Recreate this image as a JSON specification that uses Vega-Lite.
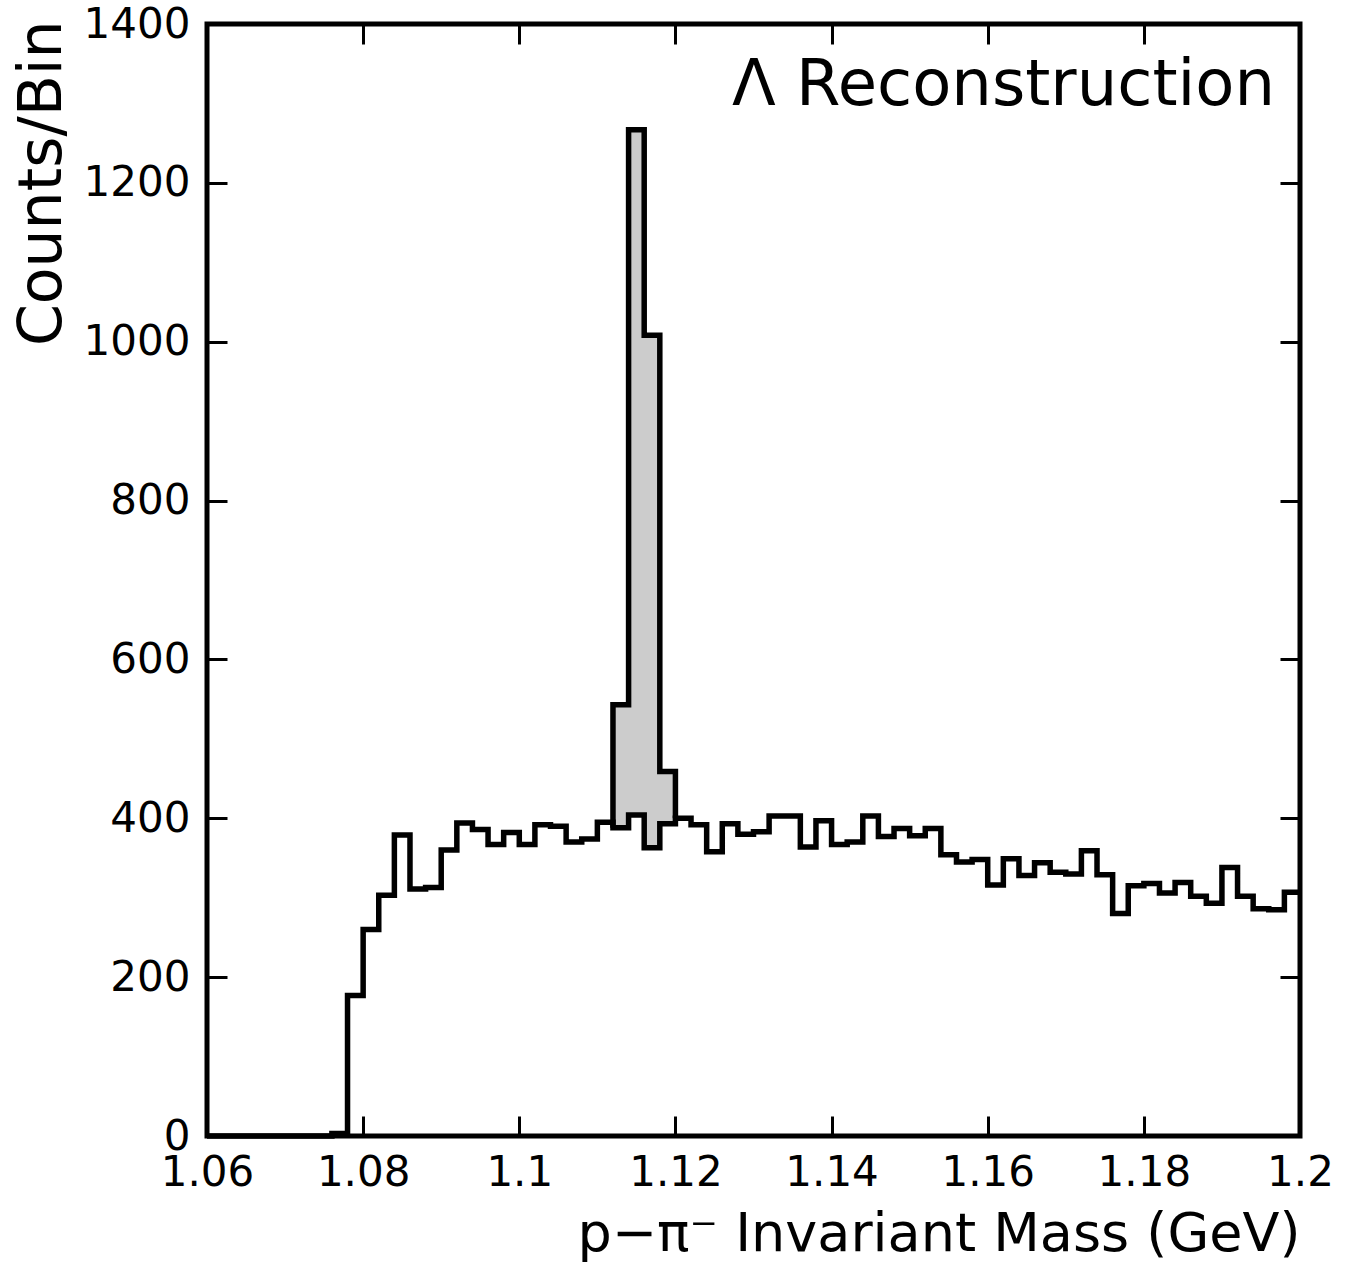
{
  "$schema": "https://vega.github.io/schema/vega-lite/v6.json",
  "width": 1093,
  "height": 1112,
  "autosize": "none",
  "padding": {"left": 207, "top": 24, "right": 56, "bottom": 130},
  "background": "white",
  "config": {
    "view": {"stroke": "black", "strokeWidth": 5},
    "font": "DejaVu Sans",
    "axis": {
      "grid": false,
      "domain": false,
      "tickColor": "black",
      "tickWidth": 3,
      "tickSize": -20,
      "labelFont": "DejaVu Sans",
      "labelFontSize": 42,
      "labelColor": "black",
      "titleFont": "DejaVu Sans",
      "titleColor": "black",
      "titleFontWeight": "normal"
    }
  },
  "datasets": {
    "bg": [
      {"m": 1.060, "n": 0}, {"m": 1.062, "n": 0}, {"m": 1.064, "n": 0}, {"m": 1.066, "n": 0},
      {"m": 1.068, "n": 0}, {"m": 1.070, "n": 0}, {"m": 1.072, "n": 0}, {"m": 1.074, "n": 0},
      {"m": 1.076, "n": 3}, {"m": 1.078, "n": 177}, {"m": 1.080, "n": 260}, {"m": 1.082, "n": 303},
      {"m": 1.084, "n": 379}, {"m": 1.086, "n": 311}, {"m": 1.088, "n": 313}, {"m": 1.090, "n": 360},
      {"m": 1.092, "n": 394}, {"m": 1.094, "n": 386}, {"m": 1.096, "n": 367}, {"m": 1.098, "n": 382},
      {"m": 1.100, "n": 367}, {"m": 1.102, "n": 392}, {"m": 1.104, "n": 390}, {"m": 1.106, "n": 370},
      {"m": 1.108, "n": 374}, {"m": 1.110, "n": 395}, {"m": 1.112, "n": 388}, {"m": 1.114, "n": 404},
      {"m": 1.116, "n": 363}, {"m": 1.118, "n": 393}, {"m": 1.120, "n": 400}, {"m": 1.122, "n": 392},
      {"m": 1.124, "n": 358}, {"m": 1.126, "n": 393}, {"m": 1.128, "n": 380}, {"m": 1.130, "n": 383},
      {"m": 1.132, "n": 403}, {"m": 1.134, "n": 403}, {"m": 1.136, "n": 364}, {"m": 1.138, "n": 397},
      {"m": 1.140, "n": 367}, {"m": 1.142, "n": 370}, {"m": 1.144, "n": 403}, {"m": 1.146, "n": 377},
      {"m": 1.148, "n": 387}, {"m": 1.150, "n": 378}, {"m": 1.152, "n": 387}, {"m": 1.154, "n": 354},
      {"m": 1.156, "n": 345}, {"m": 1.158, "n": 348}, {"m": 1.160, "n": 316}, {"m": 1.162, "n": 349},
      {"m": 1.164, "n": 328}, {"m": 1.166, "n": 344}, {"m": 1.168, "n": 332}, {"m": 1.170, "n": 330},
      {"m": 1.172, "n": 359}, {"m": 1.174, "n": 329}, {"m": 1.176, "n": 280}, {"m": 1.178, "n": 315},
      {"m": 1.180, "n": 318}, {"m": 1.182, "n": 306}, {"m": 1.184, "n": 319}, {"m": 1.186, "n": 302},
      {"m": 1.188, "n": 293}, {"m": 1.190, "n": 338}, {"m": 1.192, "n": 302}, {"m": 1.194, "n": 286},
      {"m": 1.196, "n": 285}, {"m": 1.198, "n": 307}, {"m": 1.200, "n": 307}
    ],
    "peak": [
      {"m": 1.112, "lo": 388, "hi": 543},
      {"m": 1.114, "lo": 404, "hi": 1267},
      {"m": 1.116, "lo": 363, "hi": 1008},
      {"m": 1.118, "lo": 393, "hi": 459},
      {"m": 1.120, "lo": 393, "hi": 459}
    ],
    "outline": [
      {"i": 0, "m": 1.112, "n": 388},
      {"i": 1, "m": 1.112, "n": 543},
      {"i": 2, "m": 1.114, "n": 1267},
      {"i": 3, "m": 1.116, "n": 1008},
      {"i": 4, "m": 1.118, "n": 459},
      {"i": 5, "m": 1.120, "n": 459},
      {"i": 6, "m": 1.120, "n": 400}
    ],
    "label": [{"t": "Λ Reconstruction", "m": 1.1968, "n": 1298}]
  },
  "resolve": {"axis": {"x": "independent", "y": "independent"}},
  "layer": [
    {
      "data": {"name": "peak"},
      "mark": {"type": "area", "interpolate": "step-after", "fill": "#cccccc", "stroke": null},
      "encoding": {
        "x": {"field": "m", "type": "quantitative", "scale": {"domain": [1.06, 1.2], "nice": false, "zero": false}, "axis": null},
        "y": {"field": "hi", "type": "quantitative", "scale": {"domain": [0, 1400], "nice": false}, "axis": null},
        "y2": {"field": "lo"}
      }
    },
    {
      "data": {"name": "bg"},
      "mark": {"type": "line", "interpolate": "step-after", "color": "black", "strokeWidth": 5.5, "strokeJoin": "miter"},
      "encoding": {
        "x": {
          "field": "m", "type": "quantitative",
          "scale": {"domain": [1.06, 1.2], "nice": false, "zero": false},
          "axis": {
            "orient": "bottom",
            "values": [1.06, 1.08, 1.1, 1.12, 1.14, 1.16, 1.18, 1.2],
            "format": ".2~f",
            "labelPadding": 36,
            "labelFlush": false,
            "title": "p−π⁻ Invariant Mass (GeV)",
            "titleFontSize": 54,
            "titleAlign": "right",
            "titleAnchor": null,
            "titleX": 1093,
            "titleY": 114,
            "titleBaseline": "alphabetic"
          }
        },
        "y": {
          "field": "n", "type": "quantitative",
          "scale": {"domain": [0, 1400], "nice": false},
          "axis": {
            "orient": "left",
            "values": [0, 200, 400, 600, 800, 1000, 1200, 1400],
            "format": "d",
            "labelPadding": 37,
            "labelFlush": false,
            "title": "Counts/Bin",
            "titleFontSize": 60,
            "titleAngle": -90,
            "titleAlign": "right",
            "titleAnchor": null,
            "titleX": -147,
            "titleY": -4,
            "titleBaseline": "alphabetic"
          }
        }
      }
    },
    {
      "data": {"name": "outline"},
      "mark": {"type": "line", "interpolate": "step-after", "color": "black", "strokeWidth": 5.5, "strokeJoin": "miter"},
      "encoding": {
        "x": {"field": "m", "type": "quantitative", "scale": {"domain": [1.06, 1.2], "nice": false, "zero": false}, "axis": null},
        "y": {"field": "n", "type": "quantitative", "scale": {"domain": [0, 1400], "nice": false}, "axis": null},
        "order": {"field": "i", "type": "quantitative"}
      }
    },
    {
      "data": {"name": "label"},
      "mark": {"type": "text", "align": "right", "baseline": "alphabetic", "fontSize": 64, "font": "DejaVu Sans", "color": "black"},
      "encoding": {
        "text": {"field": "t"},
        "x": {
          "field": "m", "type": "quantitative",
          "scale": {"domain": [1.06, 1.2], "nice": false, "zero": false},
          "axis": {"orient": "top", "values": [1.06, 1.08, 1.1, 1.12, 1.14, 1.16, 1.18, 1.2], "labels": false, "title": null}
        },
        "y": {
          "field": "n", "type": "quantitative",
          "scale": {"domain": [0, 1400], "nice": false},
          "axis": {"orient": "right", "values": [0, 200, 400, 600, 800, 1000, 1200, 1400], "labels": false, "title": null}
        }
      }
    }
  ]
}
